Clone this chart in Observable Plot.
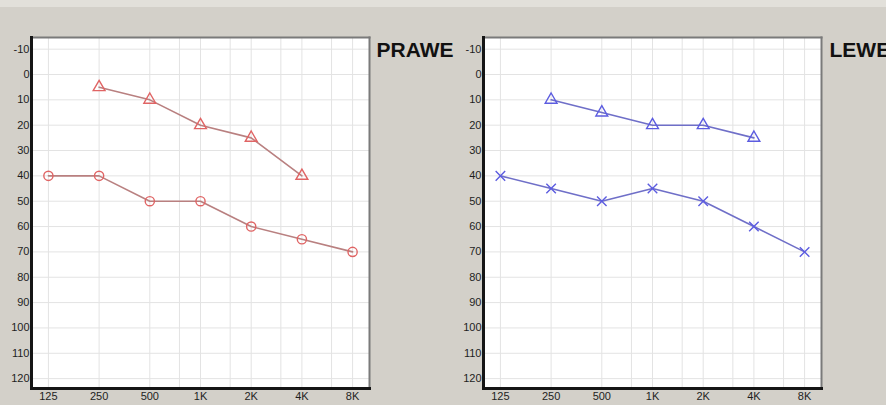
<!DOCTYPE html>
<html>
<head>
<meta charset="utf-8">
<script src="https://cdn.jsdelivr.net/npm/d3@7"></script>
<script src="https://cdn.jsdelivr.net/npm/@observablehq/plot@0.6"></script>
<style>
  html, body { margin: 0; padding: 0; }
  body { width: 886px; height: 405px; background: #d3d0c9; position: relative; overflow: hidden; font-family: "Liberation Sans", Arial, sans-serif; }
  #topband { position: absolute; left: 0; top: 0; width: 886px; height: 7px; background: #e2e0da; }
  .panel { position: absolute; top: 0; }
  #left { left: 0; }
  #right { left: 443px; }
</style>
</head>
<body>
<div id="topband"></div>
<div id="left" class="panel"></div>
<div id="right" class="panel"></div>
<script>
// Frequencies (Hz) and labels
const freqs = [125, 250, 500, 1000, 2000, 4000, 8000];
const freqLabels = ["125", "250", "500", "1K", "2K", "4K", "8K"];
const gridFreqs = [125, 250, 500, 750, 1000, 1500, 2000, 3000, 4000, 6000, 8000];
const dbTicks = [-10, 0, 10, 20, 30, 40, 50, 60, 70, 80, 90, 100, 110, 120];

// PRAWE (right ear, red)
const rightBoneFreqs = [250, 500, 1000, 2000, 4000];
const rightBoneDb = [5, 10, 20, 25, 40];
const rightAirDb = [40, 40, 50, 50, 60, 65, 70];

// LEWE (left ear, blue)
const leftBoneFreqs = [250, 500, 1000, 2000, 4000];
const leftBoneDb = [10, 15, 20, 20, 25];
const leftAirDb = [40, 45, 50, 45, 50, 60, 70];

function panel({title, boneF, boneDb, airDb, airSymbol, lineColor, markColor, marginLeft, marginRight, titleDx}) {
  const bone = boneF.map((f, i) => ({f, db: boneDb[i]}));
  const air = freqs.map((f, i) => ({f, db: airDb[i]}));
  const labelOf = new Map(freqs.map((f, i) => [f, freqLabels[i]]));
  return Plot.plot({
    width: 443,
    height: 405,
    marginTop: 37,
    marginBottom: 17,
    marginLeft,
    marginRight,
    style: {background: "transparent", fontFamily: "'Liberation Sans', Arial, sans-serif", fontSize: "11px", color: "#1e1e1e", overflow: "visible"},
    x: {type: "log", base: 2, domain: [99.2, 10080], label: null},
    y: {domain: [-14.6, 123.9], reverse: true, label: null},
    marks: [
      Plot.frame({fill: "white", stroke: null}),
      Plot.gridX(gridFreqs, {stroke: "#e3e3e3", strokeOpacity: 1, strokeWidth: 1}),
      Plot.gridY(dbTicks, {stroke: "#e3e3e3", strokeOpacity: 1, strokeWidth: 1}),
      Plot.frame({anchor: "top", stroke: "#7a7a7a", strokeWidth: 2}),
      Plot.frame({anchor: "right", stroke: "#7a7a7a", strokeWidth: 2}),
      Plot.frame({anchor: "left", stroke: "#151515", strokeWidth: 3}),
      Plot.frame({anchor: "bottom", stroke: "#151515", strokeWidth: 3}),
      Plot.axisX(freqs, {tickSize: 0, tickPadding: 4, label: null, tickFormat: d => labelOf.get(d), fill: "#1e1e1e"}),
      Plot.axisY(dbTicks, {tickSize: 0, tickPadding: 2, label: null, tickFormat: d => String(d), fill: "#1e1e1e"}),
      Plot.line(bone, {x: "f", y: "db", stroke: lineColor, strokeWidth: 1.6}),
      Plot.line(air, {x: "f", y: "db", stroke: lineColor, strokeWidth: 1.6}),
      Plot.dot(bone, {x: "f", y: "db", symbol: "triangle", r: 4.4, stroke: markColor, fill: "none", strokeWidth: 1.4}),
      Plot.dot(air, {x: "f", y: "db", symbol: airSymbol, r: airSymbol === "circle" ? 4.6 : 4.4, stroke: markColor, fill: "none", strokeWidth: 1.4}),
      Plot.text([title], {frameAnchor: "top-right", text: d => d, dx: titleDx, dy: 13, textAnchor: "start", lineAnchor: "middle", fontSize: 21, fontWeight: "bold", fill: "#111"})
    ]
  });
}

document.getElementById("left").append(panel({
  title: "PRAWE", boneF: rightBoneFreqs, boneDb: rightBoneDb, airDb: rightAirDb,
  airSymbol: "circle", lineColor: "#b98080", markColor: "#e06464",
  marginLeft: 31, marginRight: 74, titleDx: 7
}));
document.getElementById("right").append(panel({
  title: "LEWE", boneF: leftBoneFreqs, boneDb: leftBoneDb, airDb: leftAirDb,
  airSymbol: "times", lineColor: "#6f6fc8", markColor: "#5c5ce0",
  marginLeft: 40, marginRight: 65, titleDx: 8
}));
</script>
</body>
</html>
